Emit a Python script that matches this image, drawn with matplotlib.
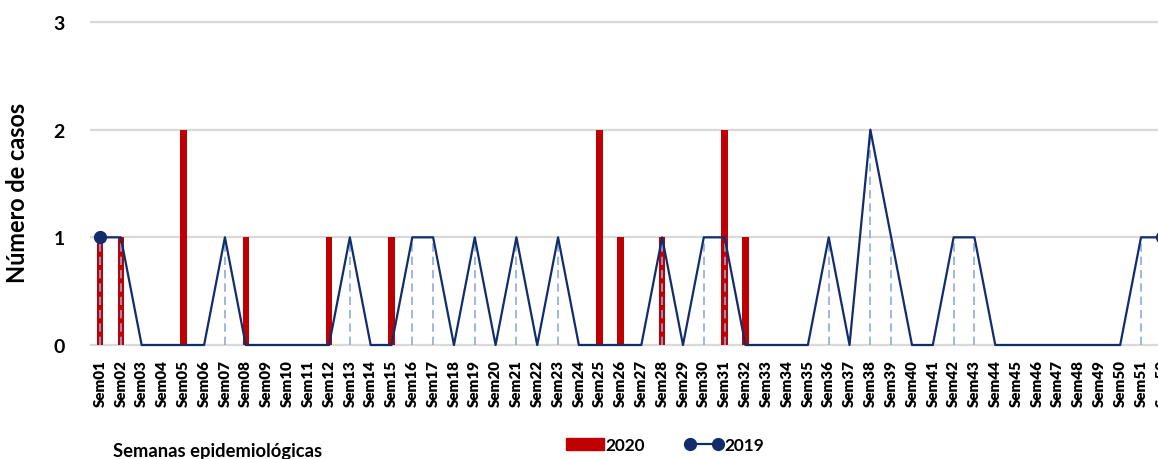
import numpy as np
import matplotlib
matplotlib.use("Agg")
import matplotlib.pyplot as plt
from matplotlib.lines import Line2D
from matplotlib.patches import Patch

plt.rcParams['font.family'] = ['Lato', 'DejaVu Sans']

# - DATA - #
weeks = ["Sem%02d" % i for i in range(1, 53)]
casos_2020 = [1, 1, 0, 0, 2, 0, 0, 1, 0, 0, 0, 1, 0, 0, 1, 0, 0, 0, 0, 0,
              0, 0, 0, 0, 2, 1, 0, 1, 0, 0, 2, 1, 0, 0, 0, 0, 0, 0, 0, 0,
              0, 0, 0, 0, 0, 0, 0, 0, 0, 0, 0, 0]
casos_2019 = [1, 1, 0, 0, 0, 0, 1, 0, 0, 0, 0, 0, 1, 0, 0, 1, 1, 0, 1, 0,
              1, 0, 1, 0, 0, 0, 0, 1, 0, 1, 1, 0, 0, 0, 0, 1, 0, 2, 1, 0,
              0, 1, 1, 0, 0, 0, 0, 0, 0, 0, 1, 1]

red = '#C00000'
navy = '#112D6B'
drop = '#8FAADC'

# - PLOTTING - #
fig = plt.figure(figsize=(11.58, 4.60), dpi=100)
W, H = 1158., 460.
renderer = fig.canvas.get_renderer()


def fit_size(txt, target_px, size=12, weight='bold'):
    # font size giving a text length of target_px
    t = fig.text(0, 0, txt, fontsize=size, fontweight=weight)
    w = t.get_window_extent(renderer).width
    t.remove()
    return size * target_px / w


x0, dx = 89.6, 20.82          # px of left edge, px per week
upx = (346 - 23) / 3.0        # px per case
ax = fig.add_axes([x0 / W, 1 - (346 + 0.02 * upx) / H,
                   52 * dx / W, (3.04 * upx) / H])

x = np.arange(1, 53)
for g in [0, 1, 2, 3]:
    ax.axhline(g, color='#D9D9D9', lw=1.6, zorder=0)
ax.bar(x, casos_2020, width=0.31, color=red, zorder=2)
ax.vlines(x, 0, casos_2019, colors=drop, linestyles=(0, (5, 3)), lw=1.2, zorder=3)
ax.plot(x, casos_2019, color=navy, lw=1.6, marker='o', markersize=8.5,
        markevery=[0, 51], zorder=4, clip_on=False)

ax.set_xlim(0.5, 52.5)
ax.set_ylim(-0.02, 3.02)
ax.set_yticks([0, 1, 2, 3])
ax.set_xticks(x)
ax.set_xticklabels(weeks, rotation=90,
                   fontsize=fit_size("Sem01", 47, weight='heavy'),
                   fontweight='heavy')
ax.tick_params(axis='x', length=0, pad=8.5)
ax.tick_params(axis='y', length=0, pad=18, labelsize=14)
for lab in ax.get_yticklabels():
    lab.set_fontweight('bold')
for s in ax.spines.values():
    s.set_visible(False)

fig.text(18 / W, 1 - 193 / H, "Número de casos", rotation=90, ha='center',
         va='center', fontsize=fit_size("Número de casos", 180),
         fontweight='bold')
fig.text(113 / W, 1 - 452 / H, "Semanas epidemiológicas", ha='left',
         va='center', fontsize=fit_size("Semanas epidemiológicas", 207),
         fontweight='bold')

handles = [Patch(color=red),
           Line2D([0], [0], color=navy, lw=1.6, marker='o', markersize=8.5)]
leg = fig.legend(handles, ['2020', '2019'], loc='center left', ncol=2,
                 bbox_to_anchor=(550 / W, 1 - 446 / H), frameon=False,
                 prop={'size': fit_size("2020", 40), 'weight': 'bold'},
                 numpoints=2, handlelength=2.2, handletextpad=0.1,
                 columnspacing=2.3)

fig.savefig('out.png', dpi=100)
